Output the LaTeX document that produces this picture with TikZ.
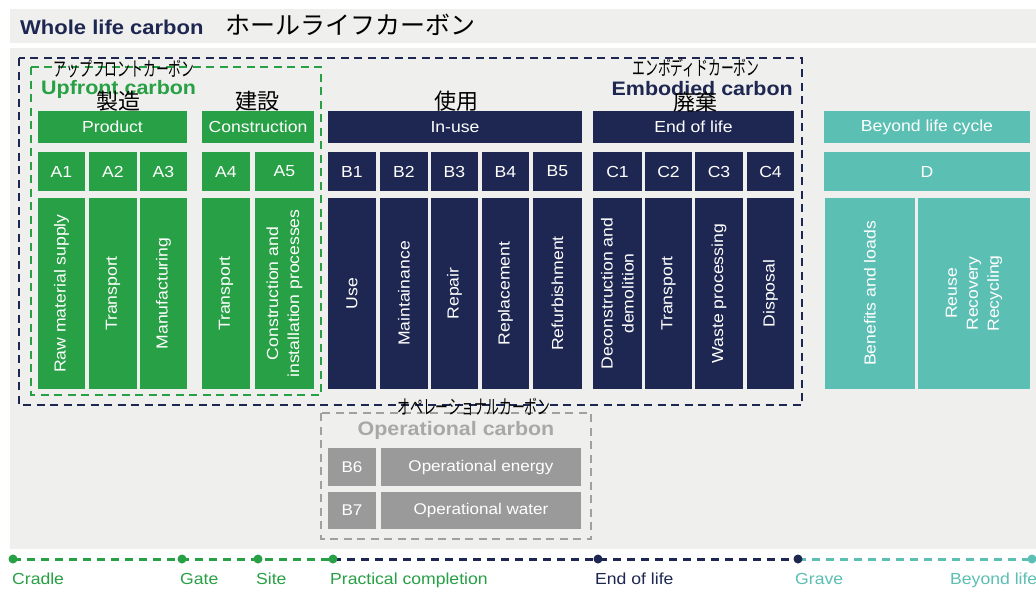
\documentclass[tikz,border=0pt]{standalone}
\usepackage{fontspec}
\setmainfont{Liberation Sans}[FakeStretch=1.1]
\newfontfamily\jp{Noto Sans CJK JP}
\newcommand\fs[2]{\fontsize{#1}{#2}\selectfont}
\newcommand\narrowjp[1]{\scalebox{0.64}[1]{#1}}
\definecolor{cgreen}{HTML}{28A045}
\definecolor{cnavy}{HTML}{1E2751}
\definecolor{cteal}{HTML}{5CBFB3}
\definecolor{cgray}{HTML}{9A9A9A}
\definecolor{cgraytext}{HTML}{A8A8A8}
\definecolor{cgraydash}{HTML}{A0A0A0}
\definecolor{cpanel}{HTML}{EFEFED}
\begin{document}
\begin{tikzpicture}[x=1pt,y=-1pt,
  cell/.style={inner sep=0pt, outer sep=0pt, text=white, font=\fs{16}{21}, align=center},
  gcell/.style={cell, fill=cgreen},
  ncell/.style={cell, fill=cnavy},
  tcell/.style={cell, fill=cteal},
  ocell/.style={cell, fill=cgray, font=\fs{15.5}{19}},
  vcell/.style={rotate=90, minimum width=191pt},
  hdr/.style={minimum height=32pt},
  code/.style={minimum height=39pt},
  dashbox/.style={line width=2.5pt, dash pattern=on 8pt off 5.5pt},
  tl/.style={line width=3pt, dash pattern=on 8pt off 6pt},
  tdot/.style={circle, inner sep=0pt, minimum size=9pt, fill=#1},
  tlabel/.style={anchor=base west, inner sep=0pt, font=\fs{16}{19}, text=#1},
  jpbig/.style={font=\jp\fs{22}{24}, inner sep=0pt, text=black},
  jpsmall/.style={font=\jp\fs{20}{22}, inner sep=0pt, text=black},
  btitle/.style={font=\bfseries\fs{19.5}{22}, inner sep=0pt}
]
\useasboundingbox (0,0) rectangle (1036,590);
\clip (0,0) rectangle (1036,590);
\fill[white] (0,0) rectangle (1036,590);
\fill[cpanel] (10,9) rectangle (1036,43);
\fill[cpanel] (10,48) rectangle (1036,549);

% title
\node[anchor=base west, inner sep=0pt, font=\bfseries\fs{20}{22}, text=cnavy] (title) at (20,34) {Whole life carbon};
\node[anchor=base west, inner sep=0pt, font=\jp\fs{25}{28}] (titlejp) at (225,34) {ホールライフカーボン};

% dashed groups
\draw[dashbox, cnavy] (19,58) rectangle (802,405);
\draw[dashbox, cgreen] (31,67) rectangle (321,395);
\draw[dashbox, cgraydash] (321,413) rectangle (591,539);

% row 1 headers
\node[gcell, hdr, minimum width=149pt] (product) at (112.5,127) {Product};
\node[gcell, hdr, minimum width=112pt] (construction) at (258,127) {Construction};
\node[ncell, hdr, minimum width=254pt] (inuse) at (455,127) {In-use};
\node[ncell, hdr, minimum width=201pt] (eol) at (693.5,127) {End of life};
\node[tcell, hdr, minimum width=206pt] (beyond) at (927,127) {Beyond life cycle};

% row 2 codes
\node[gcell, code, minimum width=47pt] (A1) at (61.5,171.5) {A1};
\node[gcell, code, minimum width=48pt] (A2) at (113,171.5) {A2};
\node[gcell, code, minimum width=47pt] (A3) at (163.5,171.5) {A3};
\node[gcell, code, minimum width=48pt] (A4) at (226,171.5) {A4};
\node[gcell, code, minimum width=59pt] (A5) at (284.5,171.5) {A5};
\node[ncell, code, minimum width=48pt] (B1) at (352,171.5) {B1};
\node[ncell, code, minimum width=48pt] (B2) at (404,171.5) {B2};
\node[ncell, code, minimum width=47pt] (B3) at (454.5,171.5) {B3};
\node[ncell, code, minimum width=47pt] (B4) at (505.5,171.5) {B4};
\node[ncell, code, minimum width=49pt] (B5) at (557.5,171.5) {B5};
\node[ncell, code, minimum width=49pt] (C1) at (617.5,171.5) {C1};
\node[ncell, code, minimum width=47pt] (C2) at (668.5,171.5) {C2};
\node[ncell, code, minimum width=48pt] (C3) at (719,171.5) {C3};
\node[ncell, code, minimum width=47pt] (C4) at (770.5,171.5) {C4};
\node[tcell, code, minimum width=206pt] (D) at (927,171.5) {D};

% row 3 descriptions
\node[gcell, vcell, minimum height=47pt] (A1d) at (61.5,293.5) {Raw material supply};
\node[gcell, vcell, minimum height=48pt] (A2d) at (113,293.5) {Transport};
\node[gcell, vcell, minimum height=47pt] (A3d) at (163.5,293.5) {Manufacturing};
\node[gcell, vcell, minimum height=48pt] (A4d) at (226,293.5) {Transport};
\node[gcell, vcell, minimum height=59pt] (A5d) at (284.5,293.5) {Construction and\\installation processes};
\node[ncell, vcell, minimum height=48pt] (B1d) at (352,293.5) {Use};
\node[ncell, vcell, minimum height=48pt] (B2d) at (404,293.5) {Maintainance};
\node[ncell, vcell, minimum height=47pt] (B3d) at (454.5,293.5) {Repair};
\node[ncell, vcell, minimum height=47pt] (B4d) at (505.5,293.5) {Replacement};
\node[ncell, vcell, minimum height=49pt] (B5d) at (557.5,293.5) {Refurbishment};
\node[ncell, vcell, minimum height=49pt] (C1d) at (617.5,293.5) {Deconstruction and\\demolition};
\node[ncell, vcell, minimum height=47pt] (C2d) at (668.5,293.5) {Transport};
\node[ncell, vcell, minimum height=48pt] (C3d) at (719,293.5) {Waste processing};
\node[ncell, vcell, minimum height=47pt] (C4d) at (770.5,293.5) {Disposal};
\node[tcell, vcell, minimum height=90pt] (Dd1) at (870,293.5) {Benefits and loads};
\node[tcell, vcell, minimum height=112pt] (Dd2) at (974,293.5) {Reuse\\Recovery\\Recycling};

% operational
\node[btitle, anchor=base, text=cgraytext] (opc) at (456,435) {Operational carbon};
\node[ocell, minimum width=48pt, minimum height=38pt] (B6) at (352,467) {B6};
\node[ocell, minimum width=200pt, minimum height=38pt] (B6d) at (481,467) {Operational energy};
\node[ocell, minimum width=48pt, minimum height=37pt] (B7) at (352,510.5) {B7};
\node[ocell, minimum width=200pt, minimum height=37pt] (B7d) at (481,510.5) {Operational water};

% group titles
\node[btitle, anchor=base west, text=cgreen] (upc) at (41,94) {Upfront carbon};
\node[btitle, anchor=base east, text=cnavy] (emc) at (793,95) {Embodied carbon};
\node[jpsmall] (upjp) at (124,69) {\narrowjp{アップフロントカーボン}};
\node[jpsmall] (emjp) at (696,68) {\narrowjp{エンボディドカーボン}};
\node[jpsmall] (opjp) at (474,407) {\narrowjp{オペレーショナルカーボン}};
\node[jpbig] (seizo) at (118,101.5) {製造};
\node[jpbig] (kensetsu) at (257,101.5) {建設};
\node[jpbig] (shiyo) at (456,101.5) {使用};
\node[jpbig] (haiki) at (695,102) {廃棄};

% timeline
\coordinate (tcradle) at (13,559);
\coordinate (tgate) at (182,559);
\coordinate (tsite) at (258,559);
\coordinate (tpc) at (333,559);
\coordinate (teol) at (598,559);
\coordinate (tgrave) at (798,559);
\coordinate (tbeyond) at (1032,559);
\draw[tl, cgreen] (tcradle) -- (tgate) -- (tsite) -- (tpc);
\draw[tl, cnavy] (tpc) -- (teol) -- (tgrave);
\draw[tl, cteal] (tgrave) -- (tbeyond);
\node[tdot=cgreen] (dcradle) at (tcradle) {};
\node[tdot=cgreen] (dgate) at (tgate) {};
\node[tdot=cgreen] (dsite) at (tsite) {};
\node[tdot=cgreen] (dpc) at (tpc) {};
\node[tdot=cnavy] (deol) at (teol) {};
\node[tdot=cnavy] (dgrave) at (tgrave) {};
\node[tdot=cteal] (dbeyond) at (tbeyond) {};
\node[tlabel=cgreen] (lcradle) at (12,584) {Cradle};
\node[tlabel=cgreen] (lgate) at (180,584) {Gate};
\node[tlabel=cgreen] (lsite) at (256,584) {Site};
\node[tlabel=cgreen] (lpc) at (330,584) {Practical completion};
\node[tlabel=cnavy] (leol) at (595,584) {End of life};
\node[tlabel=cteal] (lgrave) at (795,584) {Grave};
\node[tlabel=cteal] (lbeyond) at (950,584) {Beyond life};
\end{tikzpicture}
\end{document}
